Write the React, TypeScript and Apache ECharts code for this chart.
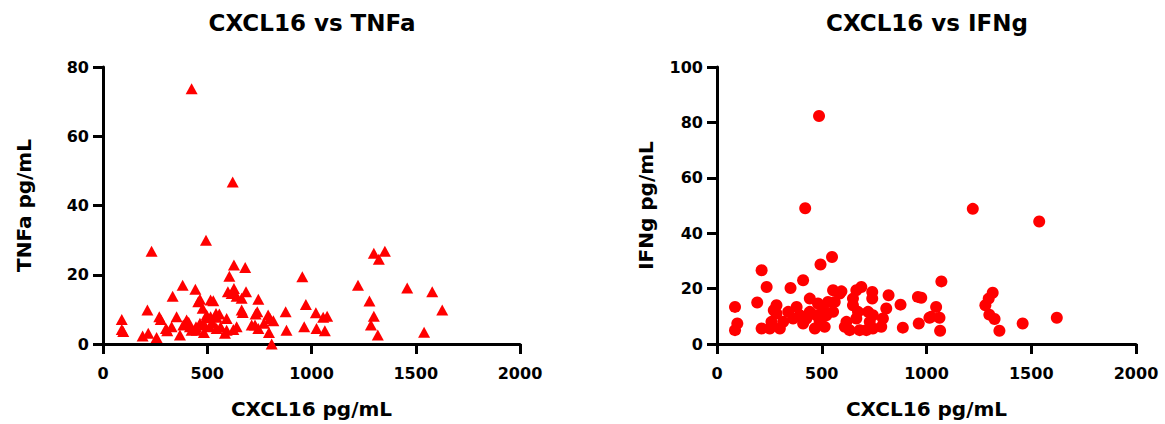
import React, { useEffect, useRef } from "react";
import * as echarts from "echarts";

// CXCL16 (pg/mL) vs TNFa (pg/mL)
const tnfaData: [number, number][] = [
  [425, 73.7], [622, 46.8], [494, 30], [233, 26.8], [628, 22.8], [682, 22.1], [606, 19.6], [956, 19.4],
  [382, 17], [443, 15.8], [599, 15.1], [628, 16], [617, 14.6], [641, 13.8], [665, 13.2], [686, 15.1],
  [334, 13.8], [465, 12.9], [457, 12.2], [516, 12.7], [529, 12.5], [745, 12.9], [973, 11.4], [876, 9.3],
  [478, 10.3], [213, 9.8], [665, 9.8], [670, 9.1], [732, 8.7], [740, 9.3], [1021, 9], [90, 7.1],
  [270, 7.9], [277, 7.1], [353, 7.9], [401, 6.9], [411, 6.3], [497, 8.4], [516, 7.9], [542, 8.8],
  [558, 8.7], [545, 7.7], [593, 7.4], [792, 8.4], [801, 7.4], [817, 6.7], [772, 6], [713, 5.5],
  [729, 5.5], [745, 4.5], [90, 4.2], [97, 3.6], [190, 2.3], [217, 3.1], [257, 1.9], [302, 4.5],
  [329, 5], [308, 3.8], [369, 2.6], [425, 4], [449, 4], [484, 3.3], [446, 5], [465, 6],
  [417, 5], [385, 5.5], [487, 5.5], [511, 5], [527, 6], [495, 7.6], [564, 5], [585, 3.1],
  [641, 5], [625, 4.2], [593, 4], [545, 4.5], [796, 3.3], [809, 0], [880, 4], [965, 5],
  [1024, 4.5], [1056, 7.7], [1075, 8], [1064, 3.8], [1223, 17], [1299, 26.2], [1352, 26.8], [1323, 24.5],
  [1459, 16.2], [1579, 15.1], [1278, 12.4], [1627, 9.8], [1299, 8], [1285, 5.5], [1318, 2.6], [1540, 3.4],
];

// CXCL16 (pg/mL) vs IFNg (pg/mL)
const ifngData: [number, number][] = [
  [487, 82.3], [421, 49], [549, 31.4], [494, 28.7], [213, 26.6], [411, 23], [237, 20.6], [351, 20.2],
  [86, 13.4], [192, 15], [97, 7.4], [86, 5], [213, 5.6], [284, 14], [271, 12.2], [284, 11],
  [260, 8], [252, 5.6], [300, 5.6], [316, 8], [340, 11.6], [380, 13.4], [395, 10.4], [363, 9.2],
  [411, 7.4], [427, 9.2], [443, 11.6], [443, 16.4], [482, 14.6], [506, 12.8], [530, 15.2], [562, 15.2],
  [554, 11.6], [522, 10.4], [475, 10.4], [490, 8], [467, 5.6], [514, 6.2], [554, 19.4], [594, 19],
  [586, 18.2], [665, 19.4], [689, 20.6], [649, 16.4], [649, 14], [673, 11.6], [665, 9.2], [618, 8],
  [610, 6.2], [633, 5], [681, 5], [741, 18.8], [741, 16.4], [721, 11.6], [744, 10.4], [729, 8],
  [713, 5], [819, 17.6], [808, 12.8], [792, 9.2], [784, 6.2], [744, 5.6], [876, 14.2], [887, 5.9],
  [959, 17], [975, 16.7], [963, 7.4], [1014, 9.5], [1071, 22.6], [1046, 13.4], [1022, 9.8], [1062, 9.5],
  [1065, 4.8], [1221, 48.8], [1538, 44.2], [1316, 18.5], [1297, 16.4], [1281, 14], [1300, 10.6], [1325, 9],
  [1348, 4.8], [1459, 7.4], [1622, 9.5],
];

const titles = ["CXCL16 vs TNFa", "CXCL16 vs IFNg"];
const xName = "CXCL16 pg/mL";
const yNames = ["TNFa pg/mL", "IFNg pg/mL"];
const yMaxes = [80, 100];

const FONT = "'DejaVu Sans', sans-serif";

export default function App() {
  const ref = useRef<HTMLDivElement>(null);

  useEffect(() => {
    if (!ref.current) return;
    const chart = echarts.init(ref.current, undefined, { renderer: "svg" });

    const axisLine = { show: true, lineStyle: { color: "#000", width: 3 } };
    const axisTick = { show: true, length: 10, inside: false, lineStyle: { color: "#000", width: 3 } };
    const labelStyle = {
      color: "#000", fontFamily: FONT, fontWeight: "bold" as const, fontSize: 16,
      formatter: (v: number) => String(v),
    };
    const nameStyle = { color: "#000", fontFamily: FONT, fontWeight: "bold" as const, fontSize: 20 };

    const grids = [
      { left: 103, top: 67, width: 417, height: 277 },
      { left: 717, top: 67, width: 419, height: 278.5 },
    ];

    const option: any = {
      animation: false,
      backgroundColor: "#fff",
      title: [
        {
          text: titles[0], left: 312, top: 11, textAlign: "center", padding: 0,
          textStyle: { color: "#000", fontFamily: FONT, fontWeight: "bold", fontSize: 23 },
        },
        {
          text: titles[1], left: 927, top: 11, textAlign: "center", padding: 0,
          textStyle: { color: "#000", fontFamily: FONT, fontWeight: "bold", fontSize: 23 },
        },
      ],
      grid: grids,
      xAxis: [0, 1].map((i) => ({
        type: "value",
        gridIndex: i,
        min: 0,
        max: 2000,
        interval: 500,
        name: xName,
        nameLocation: "middle",
        nameGap: 55,
        nameTextStyle: nameStyle,
        axisLine,
        axisTick,
        splitLine: { show: false },
        axisLabel: { ...labelStyle, margin: 21 },
      })),
      yAxis: [0, 1].map((i) => ({
        type: "value",
        gridIndex: i,
        min: 0,
        max: yMaxes[i],
        interval: 20,
        name: yNames[i],
        nameLocation: "middle",
        nameGap: i === 0 ? 69 : 61,
        nameTextStyle: nameStyle,
        axisLine,
        axisTick,
        splitLine: { show: false },
        axisLabel: { ...labelStyle, margin: 14 },
      })),
      series: [
        {
          type: "scatter",
          xAxisIndex: 0,
          yAxisIndex: 0,
          data: tnfaData,
          symbol: "triangle",
          symbolSize: [12, 11],
          clip: false,
          itemStyle: { color: "#ff0000", opacity: 1 },
        },
        {
          type: "scatter",
          xAxisIndex: 1,
          yAxisIndex: 1,
          data: ifngData,
          symbol: "circle",
          symbolSize: 12,
          clip: false,
          itemStyle: { color: "#ff0000", opacity: 1 },
        },
      ],
    };

    chart.setOption(option);
    return () => chart.dispose();
  }, []);

  return (
    <div
      ref={ref}
      style={{ position: "absolute", left: 0, top: 0, width: 1165, height: 424, background: "#fff" }}
    />
  );
}
